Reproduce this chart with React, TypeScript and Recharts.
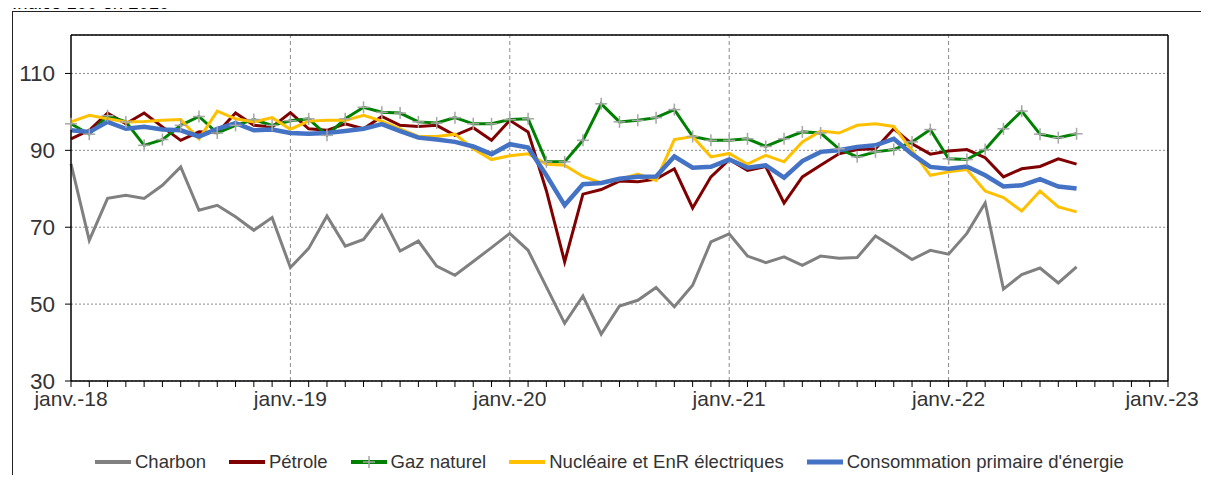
import React from "react";
import { LineChart, Line, XAxis, YAxis, CartesianGrid, ReferenceLine } from "recharts";

const yearLabels = ["janv.-18", "janv.-19", "janv.-20", "janv.-21", "janv.-22", "janv.-23"];

const charbon = [
  86.5, 66.6, 77.5, 78.3, 77.5, 80.9, 85.7, 74.4, 75.7, 72.7, 69.2, 72.5,
  59.5, 64.5, 72.9, 65.1, 66.8, 73.1, 63.8, 66.4, 59.9, 57.5, 61.1, 64.7,
  68.4, 64.0, 54.5, 45.0, 52.1, 42.2, 49.5, 51.0, 54.3, 49.3, 54.9, 66.2,
  68.3, 62.5, 60.8, 62.3, 60.1, 62.5, 61.9, 62.1, 67.7, 64.7, 61.6, 64.0,
  63.0, 68.4, 76.3, 53.9, 57.7, 59.4, 55.5, 59.7,
];
const petrole = [
  93.0, 95.2, 99.7, 96.9, 99.7, 96.1, 92.6, 94.8, 94.6, 99.7, 96.5, 96.1,
  99.8, 95.6, 95.2, 96.9, 95.6, 98.8, 96.5, 96.2, 96.5, 93.9, 95.9, 92.6,
  97.8, 94.8, 79.5, 61.0, 78.6, 79.8, 82.0, 81.8, 82.5, 85.2, 75.0, 83.1,
  87.6, 84.8, 85.8, 76.3, 83.1, 86.1, 89.1, 90.2, 90.4, 95.6, 91.7, 89.0,
  89.8, 90.2, 88.1, 83.1, 85.2, 85.8, 87.8, 86.4,
];
const gaz = [
  96.9, 94.2, 99.0, 97.4, 91.3, 92.8, 96.5, 98.8, 94.5, 96.5, 98.0, 96.5,
  97.7, 98.2, 93.9, 98.2, 101.2, 99.9, 99.7, 97.4, 97.1, 98.5, 96.9, 96.9,
  98.0, 98.2, 87.0, 87.0, 92.6, 102.1, 97.4, 97.8, 98.5, 100.6, 93.6, 92.6,
  92.6, 93.0, 91.0, 93.0, 94.8, 94.5, 90.4, 88.3, 89.6, 90.2, 92.2, 95.4,
  87.8, 87.6, 90.2, 95.6, 100.2, 94.2, 93.3, 94.3,
];
const nucleaire = [
  97.4, 99.1, 98.2, 97.4, 97.5, 97.8, 98.0, 93.0, 100.2, 98.2, 97.4, 98.5,
  95.5, 97.6, 97.8, 97.8, 99.1, 97.6, 95.6, 93.6, 93.6, 94.2, 90.4, 87.6,
  88.6, 89.1, 86.4, 86.1, 83.2, 81.5, 82.4, 83.8, 82.2, 92.8, 93.6, 88.3,
  89.2, 86.4, 88.7, 87.0, 92.2, 95.0, 94.5, 96.5, 96.9, 96.2, 90.0, 83.5,
  84.4, 85.0, 79.4, 77.7, 74.2, 79.4, 75.3, 74.0,
];
const conso = [
  95.2, 94.8, 97.4, 95.6, 96.1, 95.4, 95.2, 93.6, 95.6, 97.1, 95.2, 95.4,
  94.5, 94.3, 94.5, 95.0, 95.6, 96.8, 95.0, 93.3, 92.8, 92.2, 91.0, 89.0,
  91.6, 90.7, 83.5, 75.7, 81.2, 81.5, 82.6, 83.1, 83.2, 88.4, 85.5, 85.7,
  87.6, 85.5, 86.1, 82.9, 87.2, 89.6, 90.0, 90.9, 91.3, 93.0, 89.0, 85.7,
  85.2, 85.8, 83.5, 80.6, 80.9, 82.5, 80.6, 80.1,
];

const seriesNames = {
  charbon: "Charbon",
  petrole: "Pétrole",
  gaz: "Gaz naturel",
  nucleaire: "Nucléaire et EnR électriques",
  conso: "Consommation primaire d'énergie",
};

const colors = {
  charbon: "#808080",
  petrole: "#800000",
  gaz: "#008000",
  nucleaire: "#FFC000",
  conso: "#4472C4",
};

const data = charbon.map((_, i) => ({
  i,
  charbon: charbon[i],
  petrole: petrole[i],
  gaz: gaz[i],
  nucleaire: nucleaire[i],
  conso: conso[i],
}));

const monthTicks = Array.from({ length: 61 }, (_, k) => k);
const FONT = "'Liberation Sans', Arial, sans-serif";

const PlusDot = (props: any) => {
  const { cx, cy, index } = props;
  if (cx == null || cy == null) return <g key={"d" + index} />;
  return (
    <g key={"d" + index}>
      <line x1={cx - 6} x2={cx + 6} y1={cy} y2={cy} stroke="#a6a6a6" strokeWidth={1.5} />
      <line x1={cx} x2={cx} y1={cy - 6} y2={cy + 6} stroke="#a6a6a6" strokeWidth={1.5} />
    </g>
  );
};

const XTick = (props: any) => {
  const { x, y, payload } = props;
  const v = payload && payload.value;
  if (v == null || v % 12 !== 0) return <g />;
  const shift = v === 60 ? -6 : 0;
  return (
    <text x={x + shift} y={y} dy="0.71em" textAnchor="middle" fontSize={21} fill="#333" fontFamily={FONT}>
      {yearLabels[v / 12]}
    </text>
  );
};

const legendItems = [
  { key: "charbon", w: 4 },
  { key: "petrole", w: 4 },
  { key: "gaz", w: 4, plus: true },
  { key: "nucleaire", w: 4 },
  { key: "conso", w: 5 },
];

export default function App() {
  return (
    <div style={{ position: "relative", width: 1209, height: 483, margin: -8, overflow: "hidden", background: "#fff", fontFamily: FONT }}>
      <div style={{ position: "absolute", left: 12, top: 11, width: 1195, height: 490, border: "1px solid #222", boxSizing: "border-box" }} />
      <div style={{ position: "absolute", left: 0, top: 0 }}>
        <LineChart width={1209} height={483} data={data} margin={{ top: 35, right: 41, left: 0, bottom: 62 }}>
          <CartesianGrid vertical={false} stroke="#8c8c8c" strokeDasharray="2 2" />
          <XAxis
            dataKey="i"
            type="number"
            domain={[0, 60]}
            ticks={monthTicks}
            interval={0}
            height={40}
            tickSize={6}
            tickMargin={4}
            axisLine={{ stroke: "#000", strokeWidth: 1.5 }}
            tickLine={{ stroke: "#000" }}
            tick={<XTick />}
          />
          <YAxis
            type="number"
            domain={[30, 120]}
            ticks={[30, 50, 70, 90, 110]}
            interval={0}
            width={71}
            tickSize={6}
            tickMargin={10}
            axisLine={{ stroke: "#000", strokeWidth: 1.5 }}
            tickLine={{ stroke: "#000" }}
            tick={{ fontSize: 22.5, fill: "#333", fontFamily: FONT }}
          />
          {[12, 24, 36, 48].map((x) => (
            <ReferenceLine key={x} x={x} stroke="#8c8c8c" strokeDasharray="4 3" />
          ))}
          <ReferenceLine y={120} stroke="#000" strokeWidth={1.5} />
          <ReferenceLine x={60} stroke="#000" strokeWidth={1.5} />
          <Line type="linear" dataKey="charbon" stroke={colors.charbon} strokeWidth={3} dot={false} isAnimationActive={false} />
          <Line type="linear" dataKey="petrole" stroke={colors.petrole} strokeWidth={3} dot={false} isAnimationActive={false} />
          <Line type="linear" dataKey="gaz" stroke={colors.gaz} strokeWidth={3} dot={PlusDot} activeDot={false} isAnimationActive={false} />
          <Line type="linear" dataKey="nucleaire" stroke={colors.nucleaire} strokeWidth={3} dot={false} isAnimationActive={false} />
          <Line type="linear" dataKey="conso" stroke={colors.conso} strokeWidth={4.5} dot={false} isAnimationActive={false} />
        </LineChart>
      </div>
      <div style={{ position: "absolute", left: 12, top: -6, zIndex: 5, fontSize: 18.5, lineHeight: "18.5px", color: "#000", whiteSpace: "nowrap" }}>
        Indice 100 en 2010
      </div>
      <div style={{ position: "absolute", left: 95, top: 450, height: 24, display: "flex", alignItems: "center", gap: 23, fontSize: 18.5, color: "#333", whiteSpace: "nowrap" }}>
        {legendItems.map((it) => (
          <div key={it.key} style={{ display: "flex", alignItems: "center", gap: 4 }}>
            <svg width={36} height={14}>
              <line x1={0} x2={36} y1={7} y2={7} stroke={(colors as any)[it.key]} strokeWidth={it.w} />
              {it.plus ? (
                <g>
                  <line x1={12} x2={24} y1={7} y2={7} stroke="#a6a6a6" strokeWidth={1.5} />
                  <line x1={18} x2={18} y1={1} y2={13} stroke="#a6a6a6" strokeWidth={1.5} />
                </g>
              ) : null}
            </svg>
            <span>{(seriesNames as any)[it.key]}</span>
          </div>
        ))}
      </div>
    </div>
  );
}
